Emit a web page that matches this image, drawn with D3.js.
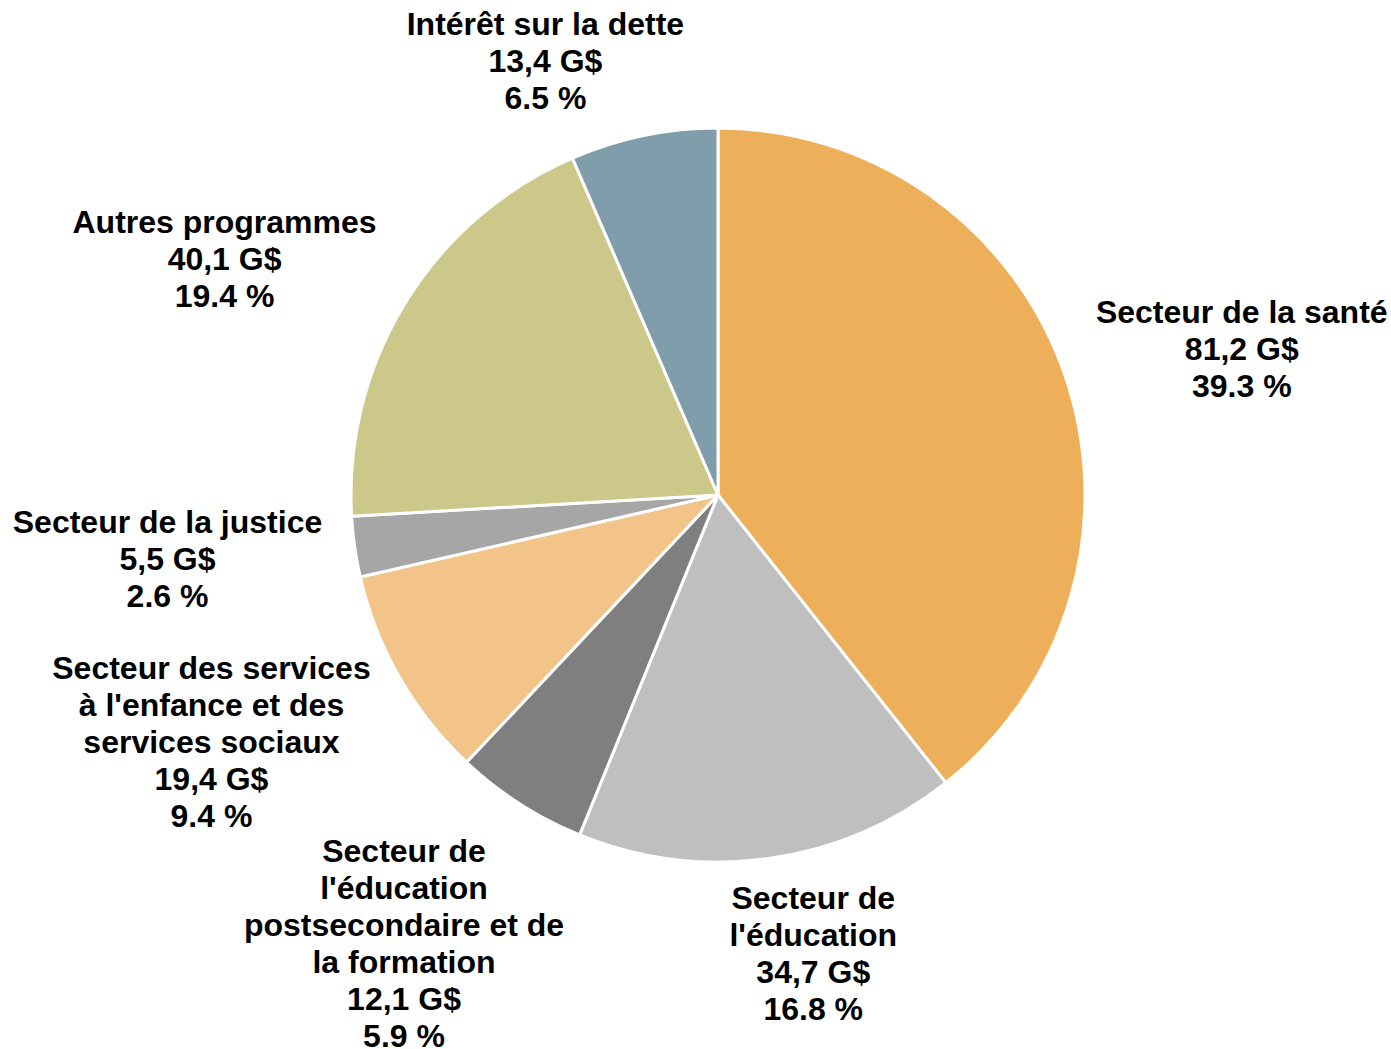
<!DOCTYPE html>
<html>
<head>
<meta charset="utf-8">
<script src="https://cdn.jsdelivr.net/npm/d3@7"></script>
<style>
  body { margin: 0; background: #ffffff; }
  svg { display: block; }
</style>
</head>
<body>
<div id="chart"></div>
<script>
// Expense breakdown (G$) - slices drawn clockwise from 12 o'clock
const categories = [
    "Secteur de la santé",
    "Secteur de\nl'éducation",
    "Secteur de\nl'éducation\npostsecondaire et de\nla formation",
    "Secteur des services\nà l'enfance et des\nservices sociaux",
    "Secteur de la justice",
    "Autres programmes",
    "Intérêt sur la dette"
];
const amounts = [81.2, 34.7, 12.1, 19.4, 5.5, 40.1, 13.4];
const shares = [39.3, 16.8, 5.9, 9.4, 2.6, 19.4, 6.5];
const sliceColors = ["#EEAF5A", "#BFBFBF", "#7F7F7F", "#F3C48A", "#A6A6A6", "#CCC889", "#7F9DAB"];

const width = 1391;
const height = 1049;
const cx = 718, cy = 495, radius = 367;
const fontSize = 32;
const lineHeight = 37;
const labelPad = 18;
// hand nudges so the labels sit where they were dragged in the original
const labelShift = [[13, 32], [29, -7], [-9, -27], [-13, -36], [-10, -13], [-31, 49], [-78, 23]];

const rows = categories.map((c, i) => ({ name: c, amount: amounts[i], share: shares[i], i }));

const svg = d3.select("#chart")
    .append("svg")
    .attr("width", width)
    .attr("height", height);

const pie = d3.pie()
    .value(d => d.amount)
    .sort(null);

const arc = d3.arc()
    .innerRadius(0)
    .outerRadius(radius);

const arcs = pie(rows);

const g = svg.append("g")
    .attr("transform", `translate(${cx},${cy})`);

g.selectAll("path")
    .data(arcs)
    .join("path")
    .attr("d", arc)
    .style("fill", d => sliceColors[d.data.i])
    .style("stroke", "#ffffff")
    .style("stroke-width", 3)
    .style("stroke-linejoin", "round");

const fmtAmount = v => d3.format(".1f")(v).replace(".", ",") + " G$";
const fmtShare = v => d3.format(".1f")(v) + " %";

// Labels, placed outside the slice along its mid angle
const label = g.selectAll("text.lbl")
    .data(arcs)
    .join("text")
    .attr("class", "lbl")
    .attr("text-anchor", "middle")
    .style("font-family", "Arial, 'Liberation Sans', sans-serif")
    .style("font-weight", "bold")
    .style("font-size", fontSize + "px")
    .style("fill", "#000000");

label.each(function(d) {
    const lines = d.data.name.split("\n").concat([fmtAmount(d.data.amount), fmtShare(d.data.share)]);
    const t = d3.select(this);
    lines.forEach((ln, k) => {
        t.append("tspan")
            .attr("x", 0)
            .attr("y", (k - (lines.length - 1) / 2) * lineHeight)
            .attr("dy", "0.35em")
            .text(ln);
    });
    const bb = this.getBBox();
    const a = (d.startAngle + d.endAngle) / 2;
    const sx = Math.sin(a), sy = -Math.cos(a);
    const support = bb.width / 2 * Math.abs(sx) + bb.height / 2 * Math.abs(sy);
    const dist = radius + labelPad + support;
    const sh = labelShift[d.data.i];
    const x = sx * dist + sh[0];
    const y = sy * dist + sh[1];
    t.attr("transform", `translate(${x},${y})`);
});
</script>
</body>
</html>
